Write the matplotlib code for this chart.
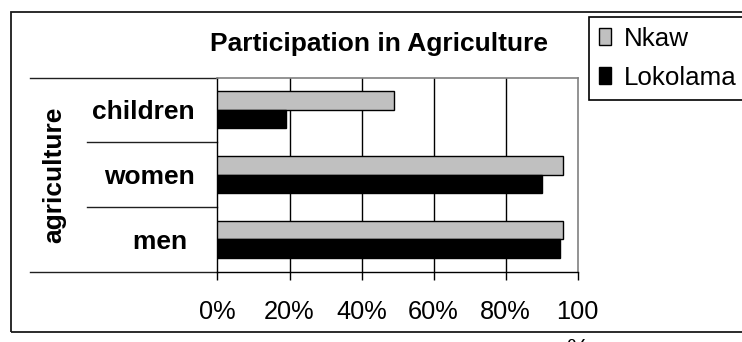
import matplotlib
matplotlib.use("Agg")
import matplotlib.pyplot as plt
import matplotlib.transforms as mtransforms
from matplotlib.lines import Line2D
from matplotlib.patches import Rectangle
import numpy as np

plt.rcParams['font.family'] = ['Liberation Sans', 'DejaVu Sans']

# --- data -------------------------------------------------------------
groups = ["men ", "women", "children"]          # bottom to top
nkaw = [96, 96, 49]
lokolama = [95, 90, 19]
series_names = ["Nkaw", "Lokolama"]
xtick_values = [0, 20, 40, 60, 80, 100]
xtick_labels = ["0%", "20%", "40%", "60%", "80%", "100\n%"]
title = "Participation in Agriculture"
group_title = "agriculture"

# --- figure -----------------------------------------------------------
W, H = 742, 342
fig = plt.figure(figsize=(W / 100, H / 100), dpi=100)
fig.patch.set_facecolor("white")

ax = fig.add_axes([217.5 / W, 1 - 271.5 / H, 360 / W, 194 / H])

y = np.arange(len(groups))
bh = 0.285
ax.barh(y + bh / 2, nkaw, height=bh, color="#c0c0c0", edgecolor="black",
        linewidth=1.0, label=series_names[0], zorder=3)
ax.barh(y - bh / 2, lokolama, height=bh, color="black", edgecolor="black",
        linewidth=1.0, label=series_names[1], zorder=3)

ax.set_xlim(0, 100)
ax.set_ylim(-0.5, len(groups) - 0.5)

ax.set_xticks(xtick_values)
ax.set_xticklabels(xtick_labels, fontsize=18.3)
for lbl in ax.get_xticklabels():
    lbl.set_linespacing(1.72)
ax.tick_params(axis="x", length=5.8, width=1.0, pad=15, color="black")
ax.xaxis.get_major_ticks()[-1].tick1line.set_color("#808080")

ax.set_yticks(y)
ax.set_yticklabels(groups, fontsize=19, fontweight="bold")
ax.tick_params(axis="y", length=0, pad=16.2)

ax.xaxis.grid(True, color="black", linewidth=1.0)
ax.set_axisbelow(True)
gl = ax.get_xgridlines()
gl[0].set_visible(False)
gl[-1].set_visible(False)

for side in ("top", "right"):
    ax.spines[side].set_color("#808080")
    ax.spines[side].set_linewidth(1.2)
for side in ("left", "bottom"):
    ax.spines[side].set_color("black")
    ax.spines[side].set_linewidth(1.0)

# category separators of the two-level axis
trans = mtransforms.blended_transform_factory(ax.transAxes, ax.transData)
for yv in (-0.5, len(groups) - 0.5):
    ax.add_line(Line2D([-0.521, 0], [yv, yv], transform=trans, color="#202020",
                       linewidth=1.0, clip_on=False))
for yv in np.arange(0.5, len(groups) - 0.5, 1.0):
    ax.add_line(Line2D([-0.362, 0], [yv, yv], transform=trans, color="#202020",
                       linewidth=1.0, clip_on=False))

fig.text(54 / W, 1 - 175 / H, group_title, rotation=90, ha="center", va="center",
         fontsize=19, fontweight="bold")

fig.text(378.8 / W, 1 - 50.7 / H, title, ha="center", va="baseline",
         fontsize=19, fontweight="bold")

# legend box runs past the right edge of the canvas
leg = fig.legend(loc="upper left", mode="expand",
                 bbox_to_anchor=(589 / W, 1 - 97.3 / H, 175 / W, 80.6 / H),
                 bbox_transform=fig.transFigure, borderaxespad=0, fontsize=18.7,
                 handlelength=0.47, handleheight=0.64, handletextpad=0.49,
                 borderpad=0.38, labelspacing=0.58, frameon=True, fancybox=False,
                 edgecolor="black", framealpha=1)
leg.get_frame().set_linewidth(1.2)

# outer chart border
fig.add_artist(Rectangle((11 / W, 1 - 331.7 / H), (760 - 11) / W, (331.7 - 11.7) / H,
                         transform=fig.transFigure, fill=False,
                         edgecolor="#1a1a1a", linewidth=1.3))

fig.savefig("out.png", dpi=100)
